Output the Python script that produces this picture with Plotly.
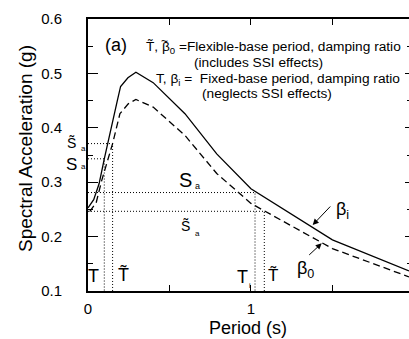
import plotly.graph_objects as go

# ---------------- data ----------------
period_fixed = [0.0, 0.035, 0.068, 0.10, 0.18, 0.20, 0.245, 0.294, 0.40, 0.595, 0.79, 1.0, 1.5, 1.97]
sa_fixed     = [0.253, 0.268, 0.297, 0.343, 0.45, 0.476, 0.492, 0.502, 0.483, 0.426, 0.352, 0.288, 0.194, 0.137]

period_flex = [0.01, 0.05, 0.084, 0.151, 0.196, 0.247, 0.294, 0.40, 0.595, 0.79, 1.0, 1.5, 1.97]
sa_flex     = [0.246, 0.262, 0.303, 0.371, 0.426, 0.444, 0.452, 0.438, 0.386, 0.316, 0.261, 0.178, 0.126]

# marked periods and spectral accelerations (dotted guide lines)
guide_T  = [0.10, 0.151, 1.025, 1.082]
guide_Sa = [0.343, 0.371, 0.281, 0.2465]

x_tickvals = [0, 0.5, 1, 1.5]
x_ticktext = ["0", "", "1", ""]
y_tickvals = [0.1, 0.2, 0.3, 0.4, 0.5, 0.6]
y_ticktext = ["0.1", "0.2", "0.3", "0.4", "0.5", "0.6"]
y_minor = [0.15, 0.25, 0.35, 0.45, 0.55]

# ---------------- layout geometry ----------------
W, H = 409, 339
L, R, T, B = 88, 409, 19, 291
XMAX = 1.97
FONT = "Liberation Sans, Arial, Helvetica, sans-serif"

def px(x):
    return (x - L) / (R - L)

def py(y):
    return (B - y) / (B - T)

fig = go.Figure()

dot = "1px,2px"
for t, s in zip(guide_T, guide_Sa):
    fig.add_trace(go.Scatter(x=[0, t, t], y=[s, s, 0.1], mode="lines",
                             line=dict(color="black", width=1, dash=dot),
                             hoverinfo="skip", showlegend=False))

fig.add_trace(go.Scatter(x=period_flex, y=sa_flex, mode="lines",
                         line=dict(color="black", width=1.3, dash="7px,4px"),
                         showlegend=False))
fig.add_trace(go.Scatter(x=period_fixed, y=sa_fixed, mode="lines",
                         line=dict(color="black", width=1.3),
                         showlegend=False))
# invisible trace for right-hand tick axis
fig.add_trace(go.Scatter(x=[0], y=[0.1], yaxis="y2", mode="markers",
                         marker=dict(opacity=0), hoverinfo="skip", showlegend=False))

ann = []
def A(x, y, text, size, angle=0, xanchor="center", yanchor="middle"):
    ann.append(dict(x=px(x), y=py(y), xref="paper", yref="paper", text=text,
                    showarrow=False, textangle=angle, xanchor=xanchor, yanchor=yanchor,
                    borderpad=0,
                    font=dict(size=size, color="black", family=FONT)))

A(116, 45, "(a)", 18)
A(145, 48, "T\u0303, \u03b2<sub>0</sub> =Flexible-base period, damping ratio", 13.7, xanchor="left")
A(164, 41, "~", 12)
A(193, 63, "(includes SSI effects)", 13.7, xanchor="left")
A(155, 79, "T, \u03b2<sub>i</sub> =  Fixed-base period, damping ratio", 13.7, xanchor="left")
A(201, 93, "(neglects SSI effects)", 13.7, xanchor="left")

# Sa labels beside the y axis
A(71, 143, "S\u0303", 14)
A(83, 148, "a", 8)
A(71, 164, "S", 17)
A(83, 166, "a", 8)
# Sa labels in the middle
A(185, 180, "S", 20)
A(197, 186, "a", 9)
A(185, 226, "S\u0303", 14)
A(197, 233, "a", 8)
# period labels
A(93, 276, "T", 18)
A(123, 274, "T\u0303", 18)
A(242, 277, "T", 18)
A(250, 285, "i", 7)
A(272.5, 275, "T\u0303", 17)
# damping labels
A(342, 210, "\u03b2<sub>i</sub>", 18)
A(305, 269, "\u03b2<sub>0</sub>", 18)

A(25, 149, "Spectral Acceleration (g)", 19, angle=-90)
A(248, 328, "Period (s)", 18)

# arrows
ann.append(dict(x=px(312.7), y=py(225), xref="paper", yref="paper", text="",
                showarrow=True, ax=19, ay=-20, arrowhead=2, arrowsize=1.2,
                arrowwidth=1, arrowcolor="black"))
ann.append(dict(x=px(321.7), y=py(243.3), xref="paper", yref="paper", text="",
                showarrow=True, ax=-14, ay=13, arrowhead=2, arrowsize=1.2,
                arrowwidth=1, arrowcolor="black"))

fig.update_layout(
    width=W, height=H,
    margin=dict(l=L, r=W - R, t=T, b=H - B, pad=0),
    paper_bgcolor="white", plot_bgcolor="white",
    font=dict(family=FONT, color="black", size=15),
    showlegend=False,
    annotations=ann,
    xaxis=dict(range=[0, XMAX], showgrid=False, zeroline=False,
               showline=True, linecolor="black", linewidth=2, mirror="ticks",
               ticks="inside", ticklen=6, tickwidth=1, tickcolor="black",
               tickvals=x_tickvals, ticktext=x_ticktext,
               tickfont=dict(size=15, family=FONT, color="black"),
               ticklabelstandoff=3),
    yaxis=dict(range=[0.1, 0.6], showgrid=False, zeroline=False,
               showline=True, linecolor="black", linewidth=2, mirror=False,
               ticks="inside", ticklen=10, tickwidth=1, tickcolor="black",
               tickvals=y_tickvals, ticktext=y_ticktext,
               minor=dict(ticks="inside", ticklen=5, tickwidth=1, tickcolor="black",
                          tickvals=y_minor),
               tickfont=dict(size=15, family=FONT, color="black"),
               ticklabelstandoff=21),
    yaxis2=dict(range=[0.1, 0.6], overlaying="y", side="right", showgrid=False,
                zeroline=False, showline=False, showticklabels=False,
                ticks="inside", ticklen=4, tickwidth=1, tickcolor="black",
                tickvals=y_tickvals,
                minor=dict(ticks="inside", ticklen=2, tickwidth=1, tickcolor="black",
                           tickvals=y_minor)),
)

fig.write_html("out.html")
